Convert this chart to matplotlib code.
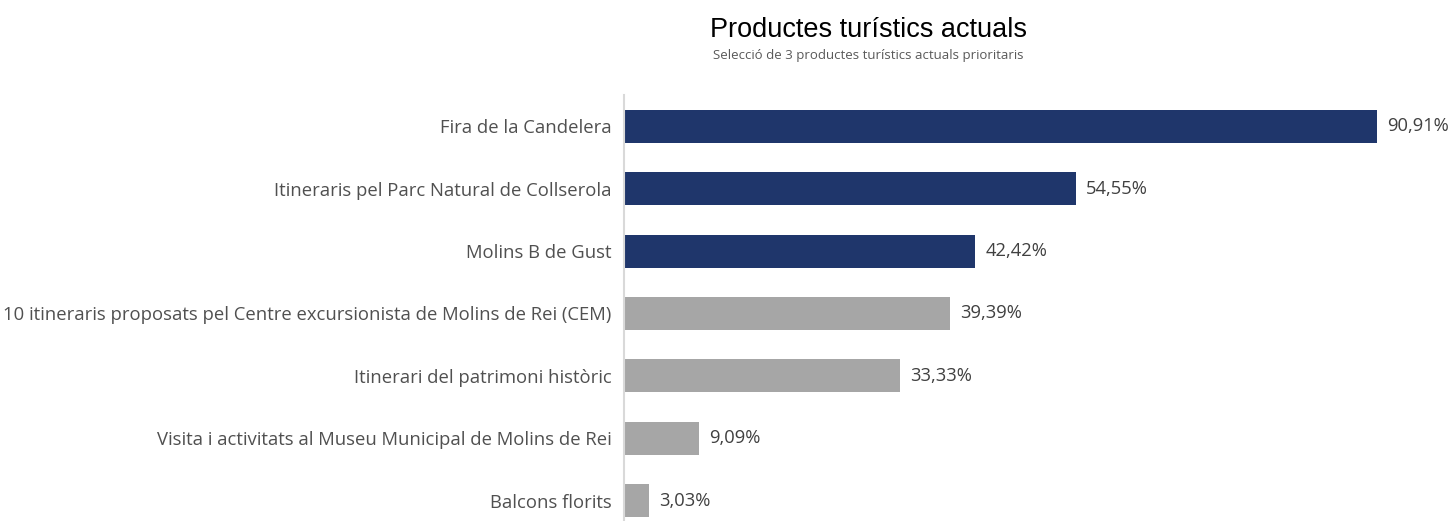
import matplotlib
matplotlib.use("Agg")
import matplotlib.pyplot as plt

categories = [
    "Fira de la Candelera",
    "Itineraris pel Parc Natural de Collserola",
    "Molins B de Gust",
    "10 itineraris proposats pel Centre excursionista de Molins de Rei (CEM)",
    "Itinerari del patrimoni històric",
    "Visita i activitats al Museu Municipal de Molins de Rei",
    "Balcons florits",
]
values = [90.91, 54.55, 42.42, 39.39, 33.33, 9.09, 3.03]
highlight = [True, True, True, False, False, False, False]
value_labels = ["90,91%", "54,55%", "42,42%", "39,39%", "33,33%", "9,09%", "3,03%"]

W, H = 1454, 521
fig = plt.figure(figsize=(W / 100, H / 100), dpi=100)
ax = fig.add_axes([624 / W, (H - 532) / H, (1452 - 624) / W, (532 - 95) / H])

colors = ["#1f366b" if h else "#a6a6a6" for h in highlight]
y = list(range(len(categories)))
ax.barh(y, values, height=0.53, color=colors)
ax.set_ylim(len(categories) - 0.5, -0.5)
ax.set_xlim(0, 100)

font = "Open Sans"
for yi, v, lab in zip(y, values, value_labels):
    ax.text(v + 1.2, yi, lab, va="center", ha="left", fontsize=13.2,
            color="#404040", family=font)

ax.set_yticks(y)
ax.set_yticklabels(categories, fontsize=13.3, color="#505050", family=font)
ax.tick_params(axis="y", length=0, pad=9)
ax.set_xticks([])
for s in ["top", "right", "bottom"]:
    ax.spines[s].set_visible(False)
ax.spines["left"].set_color("#d9d9d9")
ax.spines["left"].set_linewidth(1.5)

fig.text(868 / W, 1 - 30 / H, "Productes turístics actuals", ha="center", va="center",
         fontsize=19.5, family="Liberation Sans", color="#000000")
fig.text(868 / W, 1 - 55 / H, "Selecció de 3 productes turístics actuals prioritaris",
         ha="center", va="center", fontsize=9.5, family=font, color="#595959")

fig.savefig("out.png", dpi=100)
